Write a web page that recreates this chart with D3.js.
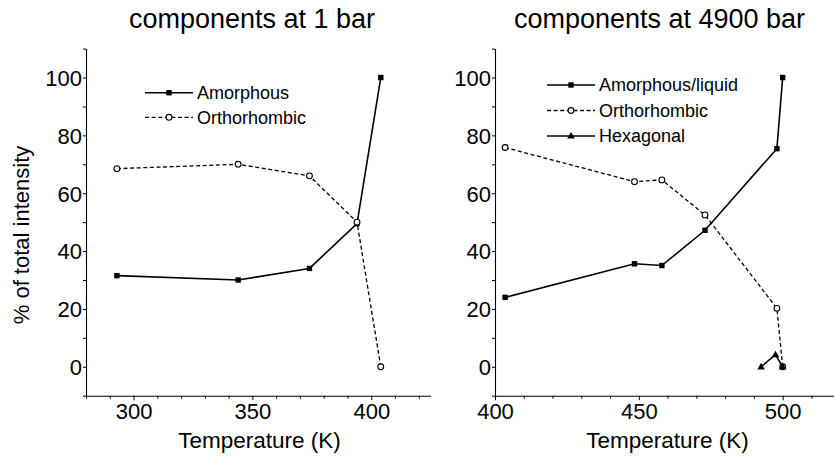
<!DOCTYPE html>
<html>
<head>
<meta charset="utf-8">
<script src="https://cdn.jsdelivr.net/npm/d3@7"></script>
<style>
  html, body { margin: 0; padding: 0; background: #fff; }
  svg { display: block; }
  text { font-family: "Liberation Sans", Arial, sans-serif; fill: #000; }
</style>
</head>
<body>
<svg id="chart" width="834" height="458"></svg>
<script>
// Phase fractions (% of total intensity) versus temperature
const temps1Bar = [293, 344, 374, 394, 404];
const amorphous1Bar = [31.5, 30, 34, 49.5, 100];
const ortho1Bar = [68.5, 70, 66, 50, 0];

const temps4900Bar = [403.5, 448.5, 458, 473, 498, 500];
const amorphousLiquid4900Bar = [24, 35.6, 35, 47.2, 75.4, 100];
const ortho4900Bar = [75.8, 64, 64.6, 52.5, 20.2, 0];

const hexTemps4900Bar = [492.5, 497.5, 500];
const hexagonal4900Bar = [0, 4.2, 0];

const yMajorTicks = [0, 20, 40, 60, 80, 100];
const yMinorTicks = [-10, 10, 30, 50, 70, 90, 110];
const xMajorTicks1Bar = [300, 350, 400];
const xMajorTicks4900Bar = [400, 450, 500];

const titles = ["components at 1 bar", "components at 4900 bar"];
const xLabel = "Temperature (K)";
const yLabel = "% of total intensity";
const legend1Bar = ["Amorphous", "Orthorhombic"];
const legend4900Bar = ["Amorphous/liquid", "Orthorhombic", "Hexagonal"];

const svg = d3.select("#chart");

function drawMarker(g, type, x, y) {
  if (type === "square") {
    g.append("rect").attr("x", x - 2.7).attr("y", y - 2.7)
      .attr("width", 5.4).attr("height", 5.4).attr("fill", "#000");
  } else if (type === "circle") {
    g.append("circle").attr("cx", x).attr("cy", y).attr("r", 2.9)
      .attr("fill", "#fff").attr("stroke", "#000").attr("stroke-width", 1.1);
  } else if (type === "triangle") {
    g.append("path")
      .attr("d", `M${x},${y - 4}L${x + 3.8},${y + 2.6}L${x - 3.8},${y + 2.6}Z`)
      .attr("fill", "#000");
  }
}

const styles = {
  solid: { width: 1.6, dash: null },
  dashed: { width: 1.3, dash: "4,2.6" }
};

function drawSeries(g, x, y, xs, ys, style, marker) {
  const pts = xs.map((t, i) => [x(t), y(ys[i])]);
  g.append("path")
    .attr("d", d3.line()(pts))
    .attr("fill", "none")
    .attr("stroke", "#000")
    .attr("stroke-width", styles[style].width)
    .attr("stroke-dasharray", styles[style].dash);
  pts.forEach(p => drawMarker(g, marker, p[0], p[1]));
}

function drawPanel(opts) {
  const g = svg.append("g");
  const x = d3.scaleLinear().domain(opts.xDomain).range(opts.xRange);
  const y = d3.scaleLinear().domain([-10, 110]).range([395.7, 48.6]);

  const xMinor = d3.range(opts.xDomain[0], opts.xDomain[1] + 1, 10)
    .filter(v => !opts.xMajor.includes(v));

  // minor ticks
  g.append("g").attr("transform", `translate(0,${y(-10)})`)
    .call(d3.axisBottom(x).tickValues(xMinor).tickSize(3).tickFormat("").tickSizeOuter(0))
    .call(a => a.select(".domain").remove());
  g.append("g").attr("transform", `translate(${x(opts.xDomain[0])},0)`)
    .call(d3.axisLeft(y).tickValues(yMinorTicks).tickSize(3).tickFormat("").tickSizeOuter(0))
    .call(a => a.select(".domain").remove());

  // major ticks with labels
  const xAxis = g.append("g").attr("transform", `translate(0,${y(-10)})`)
    .call(d3.axisBottom(x).tickValues(opts.xMajor).tickSize(4.5).tickPadding(3).tickSizeOuter(0));
  const yAxis = g.append("g").attr("transform", `translate(${x(opts.xDomain[0])},0)`)
    .call(d3.axisLeft(y).tickValues(yMajorTicks).tickSize(3).tickPadding(1).tickSizeOuter(0));

  [xAxis, yAxis].forEach(a => {
    a.selectAll("text").style("font-size", "22px").attr("fill", "#000");
    a.selectAll("line").attr("stroke", "#000").attr("stroke-width", 1);
    a.select(".domain").attr("stroke", "#000").attr("stroke-width", 1.1);
  });
  yAxis.selectAll("text").attr("dy", "0.36em");

  g.selectAll(".tick line").attr("stroke", "#000");

  // titles and axis labels
  g.append("text").attr("x", opts.titleX).attr("y", 28)
    .attr("text-anchor", "middle").style("font-size", "27px").text(opts.title);
  g.append("text").attr("x", opts.xLabelX).attr("y", 448)
    .attr("text-anchor", "middle").style("font-size", "22.5px").text(xLabel);

  opts.series.forEach(s => drawSeries(g, x, y, s.xs, s.ys, s.style, s.marker));

  // legend
  const lg = g.append("g");
  opts.series.forEach((s, i) => {
    const ly = opts.legendY + i * opts.legendGap;
    lg.append("line")
      .attr("x1", opts.legendX).attr("x2", opts.legendX + 48)
      .attr("y1", ly).attr("y2", ly)
      .attr("stroke", "#000")
      .attr("stroke-width", styles[s.style].width)
      .attr("stroke-dasharray", styles[s.style].dash);
    drawMarker(lg, s.marker, opts.legendX + 24, ly);
    lg.append("text").attr("x", opts.legendX + 52).attr("y", ly)
      .attr("dy", "0.36em").style("font-size", "18px").text(s.name);
  });
  return g;
}

drawPanel({
  xDomain: [280, 425], xRange: [86, 430.7], xMajor: xMajorTicks1Bar,
  title: titles[0], titleX: 252, xLabelX: 259.5,
  legendX: 145, legendY: 92.7, legendGap: 24.6,
  series: [
    { name: legend1Bar[0], xs: temps1Bar, ys: amorphous1Bar, style: "solid", marker: "square" },
    { name: legend1Bar[1], xs: temps1Bar, ys: ortho1Bar, style: "dashed", marker: "circle" }
  ]
});

drawPanel({
  xDomain: [400, 520], xRange: [495, 840.2], xMajor: xMajorTicks4900Bar,
  title: titles[1], titleX: 659.5, xLabelX: 667.5,
  legendX: 547, legendY: 85, legendGap: 25.5,
  series: [
    { name: legend4900Bar[0], xs: temps4900Bar, ys: amorphousLiquid4900Bar, style: "solid", marker: "square" },
    { name: legend4900Bar[1], xs: temps4900Bar, ys: ortho4900Bar, style: "dashed", marker: "circle" },
    { name: legend4900Bar[2], xs: hexTemps4900Bar, ys: hexagonal4900Bar, style: "solid", marker: "triangle" }
  ]
});

// shared y-axis label
svg.append("text")
  .attr("transform", "translate(29,235) rotate(-90)")
  .attr("text-anchor", "middle").style("font-size", "22px").text(yLabel);
</script>
</body>
</html>
